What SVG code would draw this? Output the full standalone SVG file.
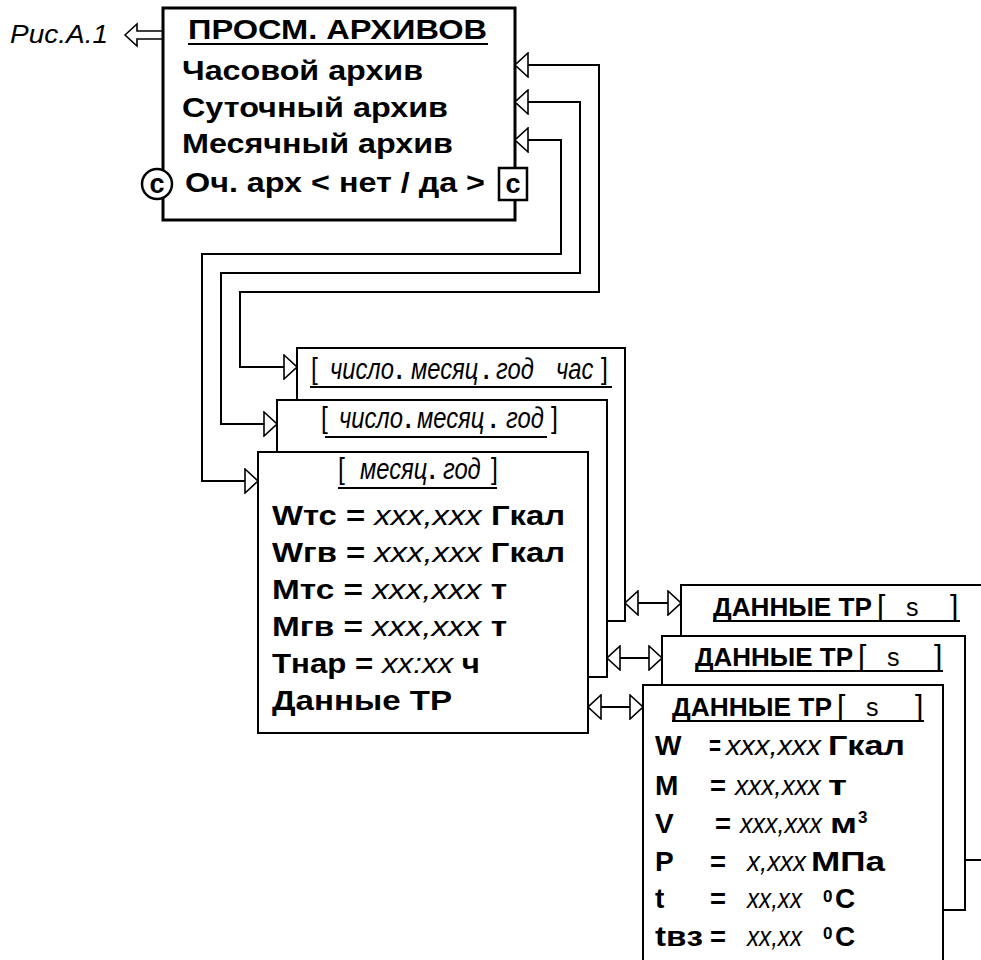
<svg xmlns="http://www.w3.org/2000/svg" width="981" height="960" viewBox="0 0 981 960">
<defs>
<style>
text{font-family:"Liberation Sans",Arial,sans-serif;fill:#000;white-space:pre}
.b{font-weight:bold}
.n{font-weight:normal;font-style:normal}
.i{font-style:italic;font-weight:normal}
.box{fill:#fff;stroke:#000;stroke-width:2}
.main{fill:#fff;stroke:#000;stroke-width:3}
.conn{fill:none;stroke:#000;stroke-width:2}
.ul{stroke:#000;stroke-width:2}
.f26{font-size:26px}
.f27{font-size:27px}
.f28{font-size:28px}
.hd{font-size:29px}
.vi{font-size:27px}
.br{font-size:30px;font-weight:normal;font-style:normal}
.dot{font-size:28px;font-weight:bold;font-style:normal}
.sup{font-size:17px;font-weight:bold}
</style>
<marker id="tri" viewBox="0 0 15 26" refX="14" refY="13" markerWidth="15" markerHeight="26" markerUnits="userSpaceOnUse" orient="auto-start-reverse">
<path d="M1,1 L14,13 L1,25 Z" fill="#fff" stroke="#000" stroke-width="1.6"/>
</marker>
</defs>
<rect width="981" height="960" fill="#fff"/>

<g id="ref-fig">
<text class="i f26" x="10" y="43" textLength="98" lengthAdjust="spacingAndGlyphs">Рис.А.1</text>
<polygon points="125,35 137,24 137,31 163,31 163,39 137,39 137,46" fill="#fff" stroke="#000" stroke-width="1.6"/>
</g>

<g id="archives">
<rect class="main" x="163" y="8" width="352" height="212"/>
<text class="b f27" x="188" y="39" textLength="299" lengthAdjust="spacingAndGlyphs">ПРОСМ. АРХИВОВ</text>
<line class="ul" x1="188" y1="44" x2="488" y2="44"/>
<text class="b f27" x="182" y="80" textLength="241" lengthAdjust="spacingAndGlyphs">Часовой архив</text>
<text class="b f27" x="182" y="117" textLength="266" lengthAdjust="spacingAndGlyphs">Суточный архив</text>
<text class="b f27" x="182" y="153" textLength="271" lengthAdjust="spacingAndGlyphs">Месячный архив</text>
<text class="b f27" x="185" y="192" textLength="300" lengthAdjust="spacingAndGlyphs">Оч. арх &lt; нет / да &gt;</text>
<circle cx="157" cy="184" r="15" fill="#fff" stroke="#000" stroke-width="2.5"/>
<text class="b" font-size="27" x="157" y="193" text-anchor="middle">c</text>
<rect x="499" y="168" width="28" height="32" fill="#fff" stroke="#000" stroke-width="2.5"/>
<text class="b" font-size="27" x="513" y="193" text-anchor="middle">c</text>
</g>

<g id="hour-archive">
<rect class="box" x="297" y="348" width="328" height="273"/>
<text class="i hd" transform="scale(0.82,1)" y="379"><tspan class="br" x="379.3">[</tspan><tspan x="402.4">число</tspan><tspan class="dot" x="482.9">.</tspan><tspan x="501.2">месяц</tspan><tspan class="dot" x="589">.</tspan><tspan x="604.9">год</tspan><tspan x="678">час</tspan><tspan class="br" x="732.9">]</tspan></text>
<line class="ul" x1="310" y1="387" x2="612" y2="387"/>
</g>

<g id="day-archive">
<rect class="box" x="277" y="400" width="330" height="277"/>
<text class="i hd" transform="scale(0.82,1)" y="428"><tspan class="br" x="391.5">[</tspan><tspan x="413.4">число</tspan><tspan class="dot" x="493.9">.</tspan><tspan x="508.5">месяц</tspan><tspan class="dot" x="597.6">.</tspan><tspan x="617.1">год</tspan><tspan class="br" x="672">]</tspan></text>
<line class="ul" x1="325" y1="437" x2="547" y2="437"/>
</g>

<g id="month-archive">
<rect class="box" x="258" y="452" width="330" height="281"/>
<text class="i hd" transform="scale(0.82,1)" y="479"><tspan class="br" x="412.2">[</tspan><tspan x="439">месяц</tspan><tspan class="dot" x="523.2">.</tspan><tspan x="540.2">год</tspan><tspan class="br" x="598.8">]</tspan></text>
<line class="ul" x1="338" y1="488" x2="497" y2="488"/>
<text class="b f28" x="272" y="525" textLength="293" lengthAdjust="spacingAndGlyphs">Wтс = <tspan class="i">xxx,xxx</tspan> Гкал</text>
<text class="b f28" x="272" y="562" textLength="293" lengthAdjust="spacingAndGlyphs">Wгв = <tspan class="i">xxx,xxx</tspan> Гкал</text>
<text class="b f28" x="272" y="599" textLength="235" lengthAdjust="spacingAndGlyphs">Мтс = <tspan class="i">xxx,xxx</tspan> т</text>
<text class="b f28" x="272" y="636" textLength="235" lengthAdjust="spacingAndGlyphs">Мгв = <tspan class="i">xxx,xxx</tspan> т</text>
<text class="b f28" x="272" y="673" textLength="208" lengthAdjust="spacingAndGlyphs">Тнар = <tspan class="i">xx:xx</tspan> ч</text>
<text class="b f28" x="272" y="710" textLength="180" lengthAdjust="spacingAndGlyphs">Данные ТР</text>
</g>

<g id="tr-data-1">
<rect class="box" x="681" y="585" width="330" height="275"/>
<text class="b f26" y="616"><tspan x="713" textLength="159" lengthAdjust="spacingAndGlyphs">ДАННЫЕ ТР</tspan><tspan class="br" font-size="27" x="877">[</tspan><tspan class="n" font-size="25" x="906">s</tspan><tspan class="br" font-size="27" x="950">]</tspan></text>
<line class="ul" x1="713" y1="621" x2="960" y2="621"/>
</g>

<g id="tr-data-2">
<rect class="box" x="662" y="636" width="303" height="274"/>
<text class="b f26" y="666"><tspan x="695" textLength="158" lengthAdjust="spacingAndGlyphs">ДАННЫЕ ТР</tspan><tspan class="br" font-size="27" x="858">[</tspan><tspan class="n" font-size="25" x="887">s</tspan><tspan class="br" font-size="27" x="934">]</tspan></text>
<line class="ul" x1="695" y1="671" x2="943" y2="671"/>
</g>

<g id="tr-data-3">
<rect class="box" x="643" y="685" width="300" height="290"/>
<text class="b f26" y="716"><tspan x="672" textLength="160" lengthAdjust="spacingAndGlyphs">ДАННЫЕ ТР</tspan><tspan class="br" font-size="27" x="837">[</tspan><tspan class="n" font-size="25" x="866">s</tspan><tspan class="br" font-size="27" x="915">]</tspan></text>
<line class="ul" x1="672" y1="721" x2="924" y2="721"/>
<text class="b f28" y="755"><tspan x="655">W</tspan><tspan x="709" textLength="12" lengthAdjust="spacingAndGlyphs">=</tspan><tspan class="i vi" x="726" textLength="95" lengthAdjust="spacingAndGlyphs">xxx,xxx</tspan><tspan x="828" textLength="77" lengthAdjust="spacingAndGlyphs">Гкал</tspan></text>
<text class="b f28" y="795"><tspan x="655">M</tspan><tspan x="710" textLength="16" lengthAdjust="spacingAndGlyphs">=</tspan><tspan class="i vi" x="735" textLength="86" lengthAdjust="spacingAndGlyphs">xxx,xxx</tspan><tspan x="828" textLength="19" lengthAdjust="spacingAndGlyphs">т</tspan></text>
<text class="b f28" y="833"><tspan x="655">V</tspan><tspan x="715" textLength="16" lengthAdjust="spacingAndGlyphs">=</tspan><tspan class="i vi" x="740" textLength="82" lengthAdjust="spacingAndGlyphs">xxx,xxx</tspan><tspan x="830" textLength="27" lengthAdjust="spacingAndGlyphs">м</tspan><tspan class="sup" x="858" y="823">3</tspan></text>
<text class="b f28" y="871"><tspan x="655">P</tspan><tspan x="710" textLength="16" lengthAdjust="spacingAndGlyphs">=</tspan><tspan class="i vi" x="747" textLength="59" lengthAdjust="spacingAndGlyphs">x,xxx</tspan><tspan x="811" textLength="74" lengthAdjust="spacingAndGlyphs">МПа</tspan></text>
<text class="b f28" y="908"><tspan x="655">t</tspan><tspan x="710" textLength="16" lengthAdjust="spacingAndGlyphs">=</tspan><tspan class="i vi" x="747" textLength="55" lengthAdjust="spacingAndGlyphs">xx,xx</tspan><tspan class="sup" x="823" y="902">0</tspan><tspan x="835" y="908">C</tspan></text>
<text class="b f28" y="946"><tspan x="655" textLength="48" lengthAdjust="spacingAndGlyphs">tвз</tspan><tspan x="710" textLength="16" lengthAdjust="spacingAndGlyphs">=</tspan><tspan class="i vi" x="747" textLength="55" lengthAdjust="spacingAndGlyphs">xx,xx</tspan><tspan class="sup" x="823" y="939">0</tspan><tspan x="835" y="946">C</tspan></text>
</g>

<g id="connectors">
<path class="conn" d="M515,65 H599 V292 H240 V367 H297" marker-start="url(#tri)" marker-end="url(#tri)"/>
<path class="conn" d="M515,102 H580 V273 H221 V424 H277" marker-start="url(#tri)" marker-end="url(#tri)"/>
<path class="conn" d="M515,140 H561 V254 H202 V481 H258" marker-start="url(#tri)" marker-end="url(#tri)"/>
<path class="conn" d="M625,603 H681" marker-start="url(#tri)" marker-end="url(#tri)"/>
<path class="conn" d="M607,658 H662" marker-start="url(#tri)" marker-end="url(#tri)"/>
<path class="conn" d="M588,707 H643" marker-start="url(#tri)" marker-end="url(#tri)"/>
</g>
</svg>
